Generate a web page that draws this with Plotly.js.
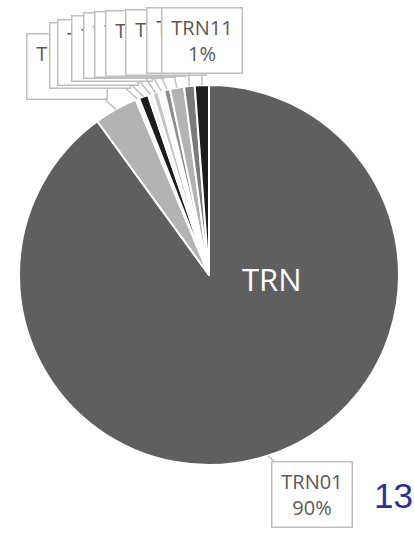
<!DOCTYPE html>
<html>
<head>
<meta charset="utf-8">
<script src="https://cdn.plot.ly/plotly-3.0.1.min.js"></script>
<style>html,body{margin:0;padding:0;background:#fff;}#chart{width:414px;height:541px;}</style>
</head>
<body>
<div id="chart"></div>
<script>
// ---- data ----
var categories = ["TRN01","TRN02","TRN03","TRN04","TRN05","TRN06","TRN07","TRN08","TRN09","TRN10","TRN11"];
var shares = [90.0, 3.7, 0.3, 0.8, 0.4, 0.5, 0.5, 0.5, 1.2, 0.9, 1.2];
var centerLabel = "TRN";
var cornerLabel = "13";

// ---- styles ----
var sliceColors = ["#5f5f5f","#b3b3b3","#ffffff","#1c1c1c","#f2f2f2","#c4c4c4","#ffffff","#8c8c8c","#b3b3b3","#7a7a7a","#1c1c1c"];
var W = 414, H = 541;
var CX = 209, CY = 275, R = 190;
// callout box centres (px) for each category
var boxCenters = [[312,494],[67,66],[90,56],[98,52],[112,48],[124,46],[135,45],[146,43],[166,42],[187,41],[202,40]];

var total = shares.reduce(function(a,b){return a+b;},0);
var annotations = [];
var cum = 0;
for (var i = 0; i < categories.length; i++) {
  var mid = (cum + shares[i]/2) / total;
  cum += shares[i];
  var th = 2*Math.PI*mid;
  var tx = CX + R*Math.sin(th), ty = CY - R*Math.cos(th);
  var pct = Math.round(shares[i]/total*100) + "%";
  annotations.push({
    xref: "paper", yref: "paper",
    x: tx/W, y: 1 - ty/H,
    ax: boxCenters[i][0] - tx, ay: boxCenters[i][1] - ty,
    axref: "pixel", ayref: "pixel",
    showarrow: true, arrowhead: 0, arrowwidth: 1.5, arrowcolor: "#bfbfbf",
    text: categories[i] + "<br>" + pct,
    font: {family: "Open Sans", size: 20, color: "#595959"},
    bgcolor: "#ffffff", bordercolor: "#bfbfbf", borderwidth: 1.5, borderpad: 1,
    width: 77, height: 62, align: "center", valign: "middle"
  });
}
annotations.push({
  xref: "paper", yref: "paper", x: 272/W, y: 1 - 279/H, showarrow: false,
  xanchor: "center", yanchor: "middle",
  text: centerLabel, font: {family: "Open Sans", size: 31, color: "#ffffff"}
});
annotations.push({
  xref: "paper", yref: "paper", x: 393/W, y: 1 - 495/H, showarrow: false,
  xanchor: "center", yanchor: "middle",
  text: cornerLabel, font: {family: "Liberation Sans", size: 35, color: "#2e2e96"}
});

var trace = {
  type: "pie",
  labels: categories,
  values: shares,
  sort: false,
  direction: "clockwise",
  rotation: 0,
  textinfo: "none",
  hoverinfo: "none",
  marker: {colors: sliceColors, line: {color: "#ffffff", width: 2}},
  domain: {x: [(CX-R)/W, (CX+R)/W], y: [1-(CY+R)/H, 1-(CY-R)/H]},
  showlegend: false
};

Plotly.newPlot("chart", [trace], {
  width: W, height: H,
  margin: {l:0, r:0, t:0, b:0},
  paper_bgcolor: "#ffffff",
  showlegend: false,
  annotations: annotations
}, {staticPlot: true});
</script>
</body>
</html>
